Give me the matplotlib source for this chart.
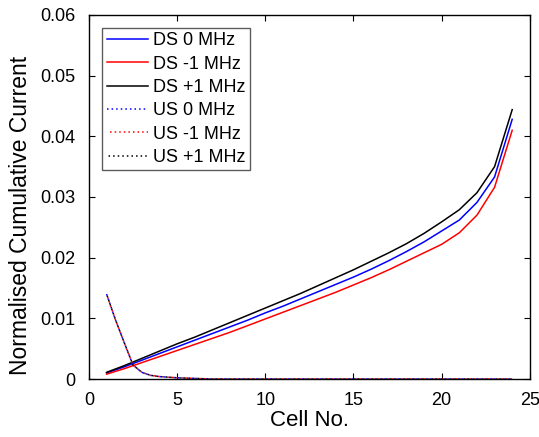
import matplotlib
matplotlib.use("Agg")
import matplotlib.pyplot as plt

plt.rcParams['font.family'] = ['Liberation Sans', 'DejaVu Sans']

cells = list(range(1, 25))
ds_0 = [0.0010, 0.0020, 0.0031, 0.0042, 0.0053, 0.0064, 0.0075, 0.0086, 0.0097, 0.0109,
        0.0120, 0.0132, 0.0144, 0.0156, 0.0168, 0.0181, 0.0195, 0.0210, 0.0226, 0.0244,
        0.0262, 0.0291, 0.0333, 0.0428]
ds_m1 = [0.0008, 0.0017, 0.0027, 0.0037, 0.0047, 0.0057, 0.0067, 0.0077, 0.0088, 0.0099,
         0.0110, 0.0121, 0.0132, 0.0143, 0.0155, 0.0167, 0.0180, 0.0194, 0.0208, 0.0222,
         0.0241, 0.0270, 0.0316, 0.0410]
ds_p1 = [0.0011, 0.0022, 0.0034, 0.0046, 0.0058, 0.0069, 0.0081, 0.0093, 0.0105, 0.0117,
         0.0129, 0.0141, 0.0154, 0.0167, 0.0180, 0.0194, 0.0208, 0.0223, 0.0240, 0.0259,
         0.0279, 0.0307, 0.0350, 0.0444]

us_cells = [1, 1.5, 2, 2.5, 3, 3.5, 4, 4.5, 5, 6, 7, 8, 9, 10, 11, 12, 13, 14, 15, 16,
            17, 18, 19, 20, 21, 22, 23, 24]
us_0 = [0.0140, 0.0098, 0.0060, 0.0023, 0.0011, 0.0006, 0.0004, 0.0003, 0.0002, 0.0001,
        0, 0, 0, 0, 0, 0, 0, 0, 0, 0, 0, 0, 0, 0, 0, 0, 0, 0]
us_m1 = list(us_0)
us_p1 = list(us_0)

fig = plt.figure(figsize=(5.39, 4.37), dpi=100)
ax = fig.add_axes([0.165, 0.1327, 0.818, 0.833])

lw = 1.1
ax.plot(cells, ds_0, color='#0000ff', lw=lw, label='DS 0 MHz')
ax.plot(cells, ds_m1, color='#ff0000', lw=lw, label='DS -1 MHz')
ax.plot(cells, ds_p1, color='#000000', lw=lw, label='DS +1 MHz')
ax.plot(us_cells, us_0, color='#0000ff', lw=lw, ls=(0, (1, 2)), label='US 0 MHz')
ax.plot(us_cells, us_m1, color='#ff0000', lw=lw, ls=(1, (1, 2)), label='US -1 MHz')
ax.plot(us_cells, us_p1, color='#000000', lw=lw, ls=(2, (1, 2)), label='US +1 MHz')

ax.set_xlim(0, 25)
ax.set_ylim(0, 0.06)
ax.set_xticks([0, 5, 10, 15, 20, 25])
ax.set_yticks([0, 0.01, 0.02, 0.03, 0.04, 0.05, 0.06])
ax.set_yticklabels(['0', '0.01', '0.02', '0.03', '0.04', '0.05', '0.06'])
ax.tick_params(direction='in', top=True, right=True, length=4, labelsize=13)
ax.tick_params(axis='x', pad=9)
ax.tick_params(axis='y', pad=10)
for s in ax.spines.values():
    s.set_linewidth(1.0)
ax.set_xlabel('Cell No.', fontsize=16, labelpad=1)
ax.set_ylabel('Normalised Cumulative Current', fontsize=16.5)
ax.yaxis.set_label_coords(-0.13, 0.448)

leg = ax.legend(loc='upper left', fontsize=13, frameon=True, fancybox=False,
                edgecolor='#333333', handlelength=2.3, handletextpad=0.25,
                labelspacing=0.35, borderpad=0.25, borderaxespad=0,
                bbox_to_anchor=(0.03, 0.965))
leg.get_frame().set_linewidth(1.0)

fig.savefig('out.png', dpi=100)
